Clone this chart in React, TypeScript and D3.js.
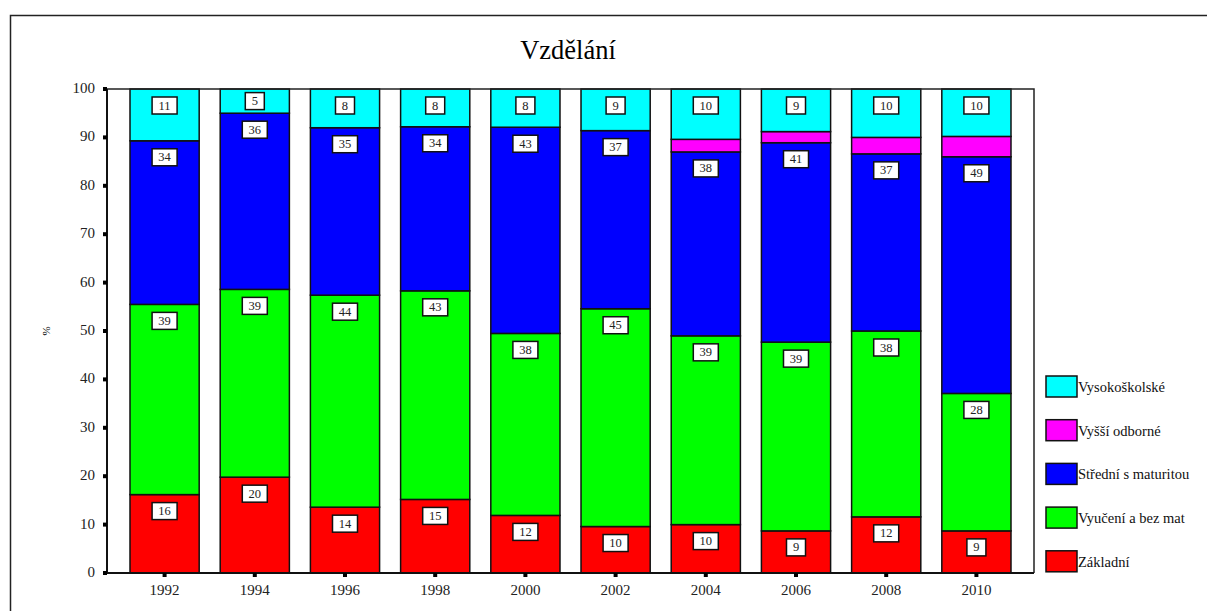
import React, { useEffect, useRef } from 'react';
import * as d3 from 'd3';

// Data (percent of respondents)
const years = ['1992', '1994', '1996', '1998', '2000', '2002', '2004', '2006', '2008', '2010'];
const zakladni = [16.2, 19.8, 13.6, 15.2, 11.9, 9.6, 10.0, 8.7, 11.6, 8.7];
const vyuceni = [39.3, 38.8, 43.8, 43.1, 37.6, 45.0, 39.0, 39.0, 38.4, 28.4];
const stredni = [33.8, 36.4, 34.6, 33.9, 42.6, 36.8, 38.0, 41.2, 36.6, 48.9];
const vyssi = [0, 0, 0, 0, 0, 0, 2.6, 2.3, 3.4, 4.2];
const vysokoskolske = [10.7, 5.0, 8.0, 7.8, 7.9, 8.6, 10.4, 8.8, 10.0, 9.8];

const seriesNames = ['Základní', 'Vyučení a bez mat', 'Střední s maturitou', 'Vyšší odborné', 'Vysokoškolské'];
const seriesColors = ['#ff0000', '#00ff00', '#0000ff', '#ff00ff', '#00ffff'];
const seriesLabeled = [true, true, true, false, true];
const yTicks = [0, 10, 20, 30, 40, 50, 60, 70, 80, 90, 100];

const FONT = '"Liberation Serif", "Times New Roman", serif';

const App = () => {
  const svgRef = useRef<SVGSVGElement>(null);

  useEffect(() => {
    const width = 1207;
    const height = 611;
    const margin = { top: 89, right: 173, bottom: 38, left: 107 };

    const svg = d3.select(svgRef.current);
    svg.selectAll('*').remove();
    svg.attr('width', width).attr('height', height);

    const values = [zakladni, vyuceni, stredni, vyssi, vysokoskolske];
    const rows = years.map((y, i) => {
      const row: any = { year: y };
      seriesNames.forEach((n, k) => { row[n] = values[k][i]; });
      return row;
    });
    const stack = d3.stack().keys(seriesNames)(rows);

    const x = d3.scaleBand()
      .domain(years)
      .range([margin.left, width - margin.right])
      .paddingInner(0.233)
      .paddingOuter(0.255);

    const y = d3.scaleLinear()
      .domain([0, 100])
      .range([height - margin.bottom, margin.top]);

    // outer frame (top + left only)
    svg.append('path')
      .attr('d', `M10.5,${height} V15.5 H${width}`)
      .attr('fill', 'none')
      .attr('stroke', '#222')
      .attr('stroke-width', 1.5);

    // title
    svg.append('text')
      .attr('x', 568)
      .attr('y', 59)
      .attr('text-anchor', 'middle')
      .attr('font-family', FONT)
      .attr('font-size', 26.5)
      .text('Vzdělání');

    // bars
    stack.forEach((layer, k) => {
      svg.append('g')
        .selectAll('rect')
        .data(layer.filter(d => d[1] - d[0] > 0))
        .enter()
        .append('rect')
        .attr('x', d => x(d.data.year as string)!)
        .attr('y', d => y(d[1]))
        .attr('width', x.bandwidth())
        .attr('height', d => y(d[0]) - y(d[1]))
        .attr('fill', seriesColors[k])
        .attr('stroke', '#111')
        .attr('stroke-width', 1.5);
    });

    // plot frame
    svg.append('path')
      .attr('d', `M${margin.left},${y(100)} H${width - margin.right} V${y(0)}`)
      .attr('fill', 'none')
      .attr('stroke', '#222')
      .attr('stroke-width', 1.5);

    // y axis
    const yAxis = svg.append('g');
    yAxis.append('line')
      .attr('x1', margin.left).attr('x2', margin.left)
      .attr('y1', y(100)).attr('y2', y(0))
      .attr('stroke', '#111').attr('stroke-width', 2);
    yTicks.forEach(t => {
      yAxis.append('rect')
        .attr('x', margin.left - 4).attr('y', y(t) - 2)
        .attr('width', 4).attr('height', 4)
        .attr('fill', '#000');
      yAxis.append('text')
        .attr('x', margin.left - 12)
        .attr('y', y(t) + 4)
        .attr('text-anchor', 'end')
        .attr('font-family', FONT)
        .attr('font-size', 15)
        .attr('fill', '#222')
        .text(t);
    });
    svg.append('text')
      .attr('transform', `translate(50, ${(y(0) + y(100)) / 2}) rotate(-90)`)
      .attr('text-anchor', 'middle')
      .attr('font-family', FONT)
      .attr('font-size', 11)
      .text('%');

    // x axis
    const xAxis = svg.append('g');
    xAxis.append('line')
      .attr('x1', margin.left).attr('x2', width - margin.right)
      .attr('y1', y(0)).attr('y2', y(0))
      .attr('stroke', '#111').attr('stroke-width', 2);
    years.forEach(yr => {
      const cx = x(yr)! + x.bandwidth() / 2;
      xAxis.append('rect')
        .attr('x', cx - 2).attr('y', y(0))
        .attr('width', 4).attr('height', 4)
        .attr('fill', '#000');
      xAxis.append('text')
        .attr('x', cx)
        .attr('y', y(0) + 22)
        .attr('text-anchor', 'middle')
        .attr('font-family', FONT)
        .attr('font-size', 15)
        .attr('fill', '#222')
        .text(yr);
    });

    // value labels in boxes
    stack.forEach((layer, k) => {
      if (!seriesLabeled[k]) return;
      layer.forEach(d => {
        const v = d[1] - d[0];
        if (v <= 0) return;
        const label = d3.format('.0f')(v);
        const bw = label.length > 1 ? 25 : 19;
        const bh = 17;
        const top = y(d[1]);
        const segH = y(d[0]) - top;
        const by = top + Math.min(8, (segH - bh) / 2);
        const cx = x(d.data.year as string)! + x.bandwidth() / 2;
        svg.append('rect')
          .attr('x', cx - bw / 2).attr('y', by)
          .attr('width', bw).attr('height', bh)
          .attr('fill', '#fff')
          .attr('stroke', '#111')
          .attr('stroke-width', 1.5);
        svg.append('text')
          .attr('x', cx)
          .attr('y', by + bh / 2 + 4)
          .attr('text-anchor', 'middle')
          .attr('font-family', FONT)
          .attr('font-size', 12.5)
          .attr('fill', '#222')
          .text(label);
      });
    });

    // legend (reverse order, top = Vysokoškolské)
    const legendOrder = seriesNames.map((n, k) => k).reverse();
    legendOrder.forEach((k, i) => {
      const ly = 376 + i * 43.7;
      svg.append('rect')
        .attr('x', 1046).attr('y', ly)
        .attr('width', 31).attr('height', 21)
        .attr('fill', seriesColors[k])
        .attr('stroke', '#111')
        .attr('stroke-width', 1.5);
      svg.append('text')
        .attr('x', 1078)
        .attr('y', ly + 16)
        .attr('font-family', FONT)
        .attr('font-size', 14.5)
        .attr('fill', '#111')
        .text(seriesNames[k]);
    });
  }, []);

  return (
    <div style={{ position: 'absolute', left: 0, top: 0, background: '#fff' }}>
      <svg ref={svgRef} style={{ display: 'block' }}></svg>
    </div>
  );
};

export default App;
